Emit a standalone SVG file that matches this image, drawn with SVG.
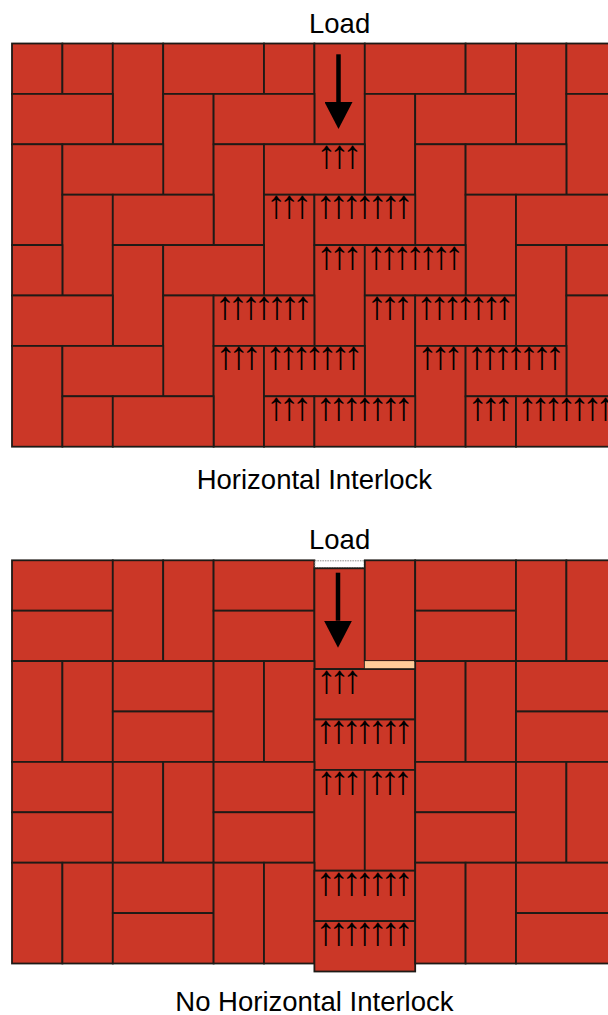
<svg xmlns="http://www.w3.org/2000/svg" width="608" height="1015" viewBox="0 0 608 1015">
<defs>
<style>
.b{fill:#CB3727;stroke:#1e1a16;stroke-width:1.8}
.lbl{font-family:"Liberation Sans",Arial,sans-serif;font-size:27.5px;fill:#000;text-anchor:middle}
.ar{font-family:"Liberation Sans",Arial,sans-serif;font-size:40px;letter-spacing:-7px;fill:#000;text-anchor:middle}
.load{stroke:#000;stroke-width:4.5;fill:none;marker-end:url(#head)}
</style>
<marker id="head" viewBox="0 -14 27 28" refX="0" refY="0" markerWidth="27" markerHeight="28" markerUnits="userSpaceOnUse" orient="auto">
<path d="M0,-14 L27,0 L0,14 Z" fill="#000"/>
</marker>
</defs>
<rect width="608" height="1015" fill="#fff"/>

<g id="herringbone">
<rect id="t1" class="b" x="12" y="43.5" width="50.4" height="50.4"/>
<rect id="t2" class="b" x="62.4" y="43.5" width="50.4" height="50.4"/>
<rect id="t3" class="b" x="112.8" y="43.5" width="50.4" height="100.8"/>
<rect id="t4" class="b" x="163.2" y="43.5" width="100.8" height="50.4"/>
<rect id="t5" class="b" x="264" y="43.5" width="50.4" height="50.4"/>
<rect id="t6" class="b" x="314.4" y="43.5" width="50.4" height="100.8"/>
<rect id="t7" class="b" x="364.8" y="43.5" width="100.8" height="50.4"/>
<rect id="t8" class="b" x="465.6" y="43.5" width="50.4" height="50.4"/>
<rect id="t9" class="b" x="516" y="43.5" width="50.4" height="100.8"/>
<rect id="t10" class="b" x="566.4" y="43.5" width="100.8" height="50.4"/>
<rect id="t11" class="b" x="12" y="93.9" width="100.8" height="50.4"/>
<rect id="t12" class="b" x="163.2" y="93.9" width="50.4" height="100.8"/>
<rect id="t13" class="b" x="213.6" y="93.9" width="100.8" height="50.4"/>
<rect id="t14" class="b" x="364.8" y="93.9" width="50.4" height="100.8"/>
<rect id="t15" class="b" x="415.2" y="93.9" width="100.8" height="50.4"/>
<rect id="t16" class="b" x="566.4" y="93.9" width="50.4" height="100.8"/>
<rect id="t17" class="b" x="12" y="144.3" width="50.4" height="100.8"/>
<rect id="t18" class="b" x="62.4" y="144.3" width="100.8" height="50.4"/>
<rect id="t19" class="b" x="213.6" y="144.3" width="50.4" height="100.8"/>
<rect id="t20" class="b" x="264" y="144.3" width="100.8" height="50.4"/>
<rect id="t21" class="b" x="415.2" y="144.3" width="50.4" height="100.8"/>
<rect id="t22" class="b" x="465.6" y="144.3" width="100.8" height="50.4"/>
<rect id="t23" class="b" x="62.4" y="194.7" width="50.4" height="100.8"/>
<rect id="t24" class="b" x="112.8" y="194.7" width="100.8" height="50.4"/>
<rect id="t25" class="b" x="264" y="194.7" width="50.4" height="100.8"/>
<rect id="t26" class="b" x="314.4" y="194.7" width="100.8" height="50.4"/>
<rect id="t27" class="b" x="465.6" y="194.7" width="50.4" height="100.8"/>
<rect id="t28" class="b" x="516" y="194.7" width="100.8" height="50.4"/>
<rect id="t29" class="b" x="12" y="245.1" width="50.4" height="50.4"/>
<rect id="t30" class="b" x="112.8" y="245.1" width="50.4" height="100.8"/>
<rect id="t31" class="b" x="163.2" y="245.1" width="100.8" height="50.4"/>
<rect id="t32" class="b" x="314.4" y="245.1" width="50.4" height="100.8"/>
<rect id="t33" class="b" x="364.8" y="245.1" width="100.8" height="50.4"/>
<rect id="t34" class="b" x="516" y="245.1" width="50.4" height="100.8"/>
<rect id="t35" class="b" x="566.4" y="245.1" width="100.8" height="50.4"/>
<rect id="t36" class="b" x="12" y="295.5" width="100.8" height="50.4"/>
<rect id="t37" class="b" x="163.2" y="295.5" width="50.4" height="100.8"/>
<rect id="t38" class="b" x="213.6" y="295.5" width="100.8" height="50.4"/>
<rect id="t39" class="b" x="364.8" y="295.5" width="50.4" height="100.8"/>
<rect id="t40" class="b" x="415.2" y="295.5" width="100.8" height="50.4"/>
<rect id="t41" class="b" x="566.4" y="295.5" width="50.4" height="100.8"/>
<rect id="t42" class="b" x="12" y="345.9" width="50.4" height="100.8"/>
<rect id="t43" class="b" x="62.4" y="345.9" width="100.8" height="50.4"/>
<rect id="t44" class="b" x="213.6" y="345.9" width="50.4" height="100.8"/>
<rect id="t45" class="b" x="264" y="345.9" width="100.8" height="50.4"/>
<rect id="t46" class="b" x="415.2" y="345.9" width="50.4" height="100.8"/>
<rect id="t47" class="b" x="465.6" y="345.9" width="100.8" height="50.4"/>
<rect id="t48" class="b" x="62.4" y="396.3" width="50.4" height="50.4"/>
<rect id="t49" class="b" x="112.8" y="396.3" width="100.8" height="50.4"/>
<rect id="t50" class="b" x="264" y="396.3" width="50.4" height="50.4"/>
<rect id="t51" class="b" x="314.4" y="396.3" width="100.8" height="50.4"/>
<rect id="t52" class="b" x="465.6" y="396.3" width="50.4" height="50.4"/>
<rect id="t53" class="b" x="516" y="396.3" width="100.8" height="50.4"/>
</g>

<g id="herringbone-arrows">
<text class="ar" x="336.1" y="167.8">↑↑↑</text>
<text class="ar" x="285.7" y="218.2">↑↑↑</text>
<text class="ar" x="361.3" y="218.2">↑↑↑↑↑↑↑</text>
<text class="ar" x="336.1" y="268.6">↑↑↑</text>
<text class="ar" x="411.7" y="268.6">↑↑↑↑↑↑↑</text>
<text class="ar" x="260.5" y="319">↑↑↑↑↑↑↑</text>
<text class="ar" x="386.5" y="319">↑↑↑</text>
<text class="ar" x="462.1" y="319">↑↑↑↑↑↑↑</text>
<text class="ar" x="235.3" y="369.4">↑↑↑</text>
<text class="ar" x="310.9" y="369.4">↑↑↑↑↑↑↑</text>
<text class="ar" x="436.9" y="369.4">↑↑↑</text>
<text class="ar" x="512.5" y="369.4">↑↑↑↑↑↑↑</text>
<text class="ar" x="285.7" y="419.8">↑↑↑</text>
<text class="ar" x="361.3" y="419.8">↑↑↑↑↑↑↑</text>
<text class="ar" x="487.3" y="419.8">↑↑↑</text>
<text class="ar" x="562.9" y="419.8">↑↑↑↑↑↑↑</text>
</g>

<g id="basketweave">
<rect class="b" x="12" y="560.3" width="100.8" height="50.4"/>
<rect class="b" x="12" y="610.7" width="100.8" height="50.4"/>
<rect class="b" x="112.8" y="560.3" width="50.4" height="100.8"/>
<rect class="b" x="163.2" y="560.3" width="50.4" height="100.8"/>
<rect class="b" x="213.6" y="560.3" width="100.8" height="50.4"/>
<rect class="b" x="213.6" y="610.7" width="100.8" height="50.4"/>
<rect id="gap-top" x="314.9" y="560.8" width="49.4" height="7" fill="#fff" stroke="#888" stroke-width="1" stroke-dasharray="1.5,1"/>
<rect id="load-brick" class="b" x="314.4" y="568.3" width="50.4" height="100.8"/>
<rect class="b" x="364.8" y="560.3" width="50.4" height="100.8"/>
<rect id="gap-bottom" x="364.8" y="661.1" width="50.4" height="8" fill="#FFCC99"/>
<rect class="b" x="415.2" y="560.3" width="100.8" height="50.4"/>
<rect class="b" x="415.2" y="610.7" width="100.8" height="50.4"/>
<rect class="b" x="516" y="560.3" width="50.4" height="100.8"/>
<rect class="b" x="566.4" y="560.3" width="50.4" height="100.8"/>

<rect class="b" x="12" y="661.1" width="50.4" height="100.8"/>
<rect class="b" x="62.4" y="661.1" width="50.4" height="100.8"/>
<rect class="b" x="112.8" y="661.1" width="100.8" height="50.4"/>
<rect class="b" x="112.8" y="711.5" width="100.8" height="50.4"/>
<rect class="b" x="213.6" y="661.1" width="50.4" height="100.8"/>
<rect class="b" x="264" y="661.1" width="50.4" height="100.8"/>
<rect class="b" x="314.4" y="669.1" width="100.8" height="50.4"/>
<rect class="b" x="314.4" y="719.5" width="100.8" height="50.4"/>
<rect class="b" x="415.2" y="661.1" width="50.4" height="100.8"/>
<rect class="b" x="465.6" y="661.1" width="50.4" height="100.8"/>
<rect class="b" x="516" y="661.1" width="100.8" height="50.4"/>
<rect class="b" x="516" y="711.5" width="100.8" height="50.4"/>

<rect class="b" x="12" y="761.9" width="100.8" height="50.4"/>
<rect class="b" x="12" y="812.3" width="100.8" height="50.4"/>
<rect class="b" x="112.8" y="761.9" width="50.4" height="100.8"/>
<rect class="b" x="163.2" y="761.9" width="50.4" height="100.8"/>
<rect class="b" x="213.6" y="761.9" width="100.8" height="50.4"/>
<rect class="b" x="213.6" y="812.3" width="100.8" height="50.4"/>
<rect class="b" x="314.4" y="769.9" width="50.4" height="100.8"/>
<rect class="b" x="364.8" y="769.9" width="50.4" height="100.8"/>
<rect class="b" x="415.2" y="761.9" width="100.8" height="50.4"/>
<rect class="b" x="415.2" y="812.3" width="100.8" height="50.4"/>
<rect class="b" x="516" y="761.9" width="50.4" height="100.8"/>
<rect class="b" x="566.4" y="761.9" width="50.4" height="100.8"/>

<rect class="b" x="12" y="862.7" width="50.4" height="100.8"/>
<rect class="b" x="62.4" y="862.7" width="50.4" height="100.8"/>
<rect class="b" x="112.8" y="862.7" width="100.8" height="50.4"/>
<rect class="b" x="112.8" y="913.1" width="100.8" height="50.4"/>
<rect class="b" x="213.6" y="862.7" width="50.4" height="100.8"/>
<rect class="b" x="264" y="862.7" width="50.4" height="100.8"/>
<rect class="b" x="314.4" y="870.7" width="100.8" height="50.4"/>
<rect class="b" x="314.4" y="921.1" width="100.8" height="50.4"/>
<rect class="b" x="415.2" y="862.7" width="50.4" height="100.8"/>
<rect class="b" x="465.6" y="862.7" width="50.4" height="100.8"/>
<rect class="b" x="516" y="862.7" width="100.8" height="50.4"/>
<rect class="b" x="516" y="913.1" width="100.8" height="50.4"/>
</g>

<g id="basketweave-arrows">
<text class="ar" x="336.1" y="693">↑↑↑</text>
<text class="ar" x="361.3" y="743.4">↑↑↑↑↑↑↑</text>
<text class="ar" x="336.1" y="793.8">↑↑↑</text>
<text class="ar" x="386.5" y="793.8">↑↑↑</text>
<text class="ar" x="361.3" y="894.6">↑↑↑↑↑↑↑</text>
<text class="ar" x="361.3" y="945">↑↑↑↑↑↑↑</text>
</g>

<g id="connectors">
<line class="load" x1="338.5" y1="54.3" x2="338.5" y2="102"/>
<line class="load" x1="338" y1="572.7" x2="338" y2="620.7"/>
</g>

<g id="labels">
<text class="lbl" x="339.6" y="32.5">Load</text>
<text class="lbl" x="314.4" y="488.5">Horizontal Interlock</text>
<text class="lbl" x="339.6" y="548.5">Load</text>
<text class="lbl" x="314.4" y="1010.5">No Horizontal Interlock</text>
</g>
</svg>
